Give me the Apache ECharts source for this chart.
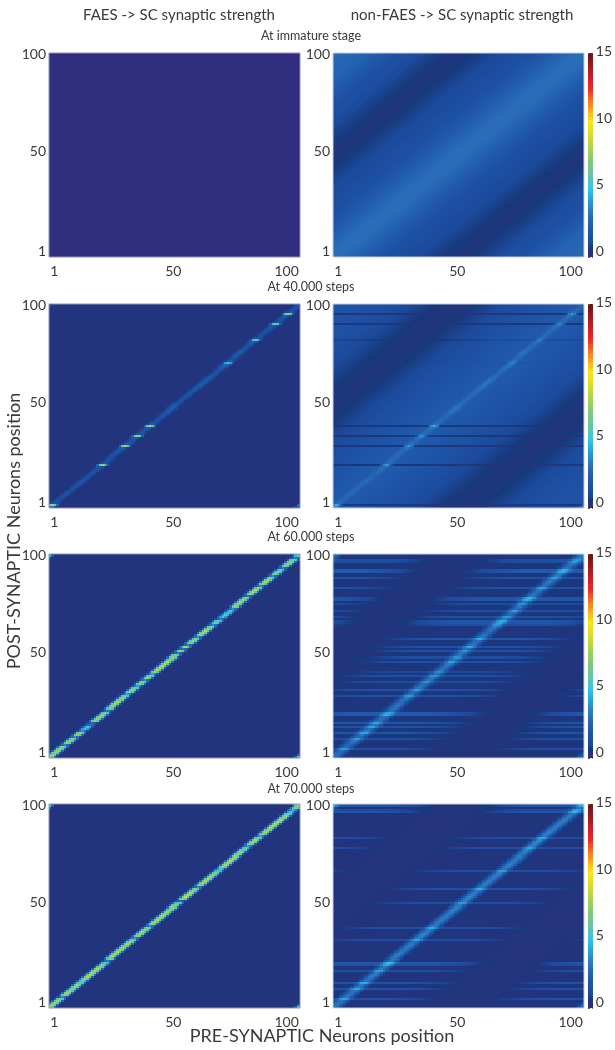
<!DOCTYPE html>
<html><head><meta charset="utf-8">
<style>html,body{margin:0;padding:0;background:#fff}#c{width:615px;height:1050px}</style>
<script src="https://cdn.jsdelivr.net/npm/echarts@6/dist/echarts.min.js"></script>
</head><body><div id="c"></div>
<script>
// Colour scale, one stop every 0.5 from 0 to 15
const scaleColors = ['#312e80','#17397c','#1c4a9c','#1e51a4','#2058ab','#2463b2','#2a6fb8','#2b84c8','#2a9ad6','#29b0e4','#34c3ec','#4fc4c6','#64c5a4','#72c790','#7fc97e','#94cd66','#a8d253','#c0d83f','#d6dd2d','#ecdf22','#fbe41a','#fcc31e','#f99f1e','#f47b21','#ef5423','#ec2a25','#dd2026','#c21e25','#a51c21','#8c181b','#71131a'];
const cbLevels = [0,.25,.5,.75,1,1.25,1.5,1.75,2,2.25,2.5,2.75,3,3.25,3.5,3.75,4,4.25,4.5,4.75,5,5.25,5.5,5.75,6,6.25,6.5,6.75,7,7.25,7.5,7.75,8,8.25,8.5,8.75,9,9.25,9.5,9.75,10,10.25,10.5,10.75,11,11.25,11.5,11.75,12,12.25,12.5,12.75,13,13.25,13.5,13.75,14,14.25,14.5,14.75,15];

// Background strength by |pre - post| distance 0..99
const profileR1 = [2.9,2.9,2.85,2.85,2.8,2.75,2.7,2.6,2.5,2.45, 2.35,2.3,2.2,2.1,2,1.95,1.85,1.8,1.7,1.6, 1.5,1.45,1.4,1.35,1.3,1.3,1.25,1.2,1.2,1.15, 1.1,1.05,1.05,1,1,.95,.9,.85,.8,.75, .7,.65,.6,.55,.5,.45,.42,.4,.38,.36, .35,.35,.36,.4,.45,.5,.55,.6,.65,.7, .75,.8,.85,.9,1,1.05,1.1,1.15,1.2,1.25, 1.3,1.3,1.35,1.4,1.45,1.5,1.6,1.7,1.8,1.85, 1.95,2.05,2.15,2.2,2.25,2.3,2.4,2.45,2.5,2.5, 2.55,2.55,2.6,2.6,2.65,2.65,2.7,2.7,2.75,2.8];
const profileR2 = [2,1.95,1.9,1.9,1.85,1.85,1.8,1.8,1.75,1.7, 1.7,1.65,1.6,1.6,1.55,1.5,1.45,1.45,1.4,1.35, 1.3,1.3,1.25,1.2,1.2,1.15,1.1,1.1,1.05,1, 1,.95,.9,.85,.8,.75,.7,.65,.6,.55, .5,.45,.4,.35,.3,.3,.25,.25,.25,.2, .2,.2,.2,.2,.25,.25,.3,.3,.35,.35, .4,.45,.5,.55,.6,.65,.7,.75,.8,.85, .9,.95,1,1,1.05,1.1,1.1,1.15,1.15,1.2, 1.2,1.25,1.25,1.3,1.3,1.3,1.35,1.35,1.35,1.4, 1.4,1.4,1.45,1.45,1.45,1.5,1.5,1.5,1.55,1.6];
const profileStripe = [1,1,1,1,1,1,1,1,1,1, 1,1,1,1,1,1,1,1,1,1, .95,.9,.9,.85,.8,.8,.75,.7,.65,.6, .55,.5,.45,.4,.35,.3,.25,.2,.18,.15, .12,.1,.08,.06,.05,.04,.03,.02,.02,.02, .02,.02,.03,.04,.05,.06,.08,.1,.12,.15, .2,.25,.3,.35,.4,.45,.5,.55,.6,.65, .7,.75,.8,.85,.9,.9,.95,.95,1,1, 1,1,1,1,1,1,1,1,1,1, 1,1,1,1,1,1,1,1,1,1];
const profileNone = [0,0,0,0,0,0,0,0,0,0, 0,0,0,0,0,0,0,0,0,0, 0,0,0,0,0,0,0,0,0,0, 0,0,0,0,0,0,0,0,0,0, 0,0,0,0,0,0,0,0,0,0, 0,0,0,0,0,0,0,0,0,0, 0,0,0,0,0,0,0,0,0,0, 0,0,0,0,0,0,0,0,0,0, 0,0,0,0,0,0,0,0,0,0, 0,0,0,0,0,0,0,0,0,0];

// Per-row gain on the background, rows 1..100
const rowsFlat = [1,1,1,1,1,1,1,1,1,1, 1,1,1,1,1,1,1,1,1,1, 1,1,1,1,1,1,1,1,1,1, 1,1,1,1,1,1,1,1,1,1, 1,1,1,1,1,1,1,1,1,1, 1,1,1,1,1,1,1,1,1,1, 1,1,1,1,1,1,1,1,1,1, 1,1,1,1,1,1,1,1,1,1, 1,1,1,1,1,1,1,1,1,1, 1,1,1,1,1,1,1,1,1,1];
const rowsR2 = [1,.15,1,1,1,1,1,1,1,1, 1,1,1,1,1,1,1,1,1,1, 1,.2,1,1,1,1,1,1,1,1, .2,1,1,1,1,.25,1,1,1,1, .2,1,1,1,1,1,1,1,1,1, 1,1,1,1,1,1,1,1,1,1, 1,1,1,1,1,1,1,1,1,1, 1,.9,1,1,1,1,1,1,1,1, 1,1,.6,1,1,1,1,1,1,1, .2,1,1,1,1,.2,1,1,1,1];
const rowsR3 = [.05,.05,.1,.05,1.1,.05,.05,.1,.25,1.1, .1,.2,1.35,.3,.1,1.25,.1,1.45,.3,.1, .1,1.7,1.7,.1,.05,.05,.1,.05,.1,.1, 1.2,.1,.1,1.25,.1,.1,.2,1,.1,.2, 1.2,.1,.7,.1,.1,.1,.2,1.1,.1,1, .1,.2,1.2,.1,1.25,.1,.1,.2,1.45,.1, .05,.05,.1,.1,.2,1.1,1.6,1.6,.2,1.25, .1,.2,1.1,.1,.2,.9,.1,1.6,1.6,.1, .1,.05,.2,1.25,.1,.1,.1,.2,1.2,.1, .1,1.7,1.7,.2,.1,.2,1.1,1.25,.2,.1];
const rowsR4 = [.05,.05,.05,.05,1.2,.05,.05,.05,.05,1.2, .05,.05,1.3,.05,.05,.05,.05,.05,1.1,.05, .05,1.3,1.7,.05,.05,.05,.05,.05,.05,.05, .05,.05,.05,1.1,.05,.05,.05,.05,.05,1.1, .05,.05,.05,.05,.05,.05,.05,.05,.05,.05, .05,1,.05,.05,.05,.05,.05,.05,1.2,.05, .05,.05,.05,.05,.05,.05,.05,1,.05,.05, .05,.05,.05,.05,.05,.05,.05,.05,1,.05, .05,.05,.05,1.1,.05,.05,.05,.05,.05,.05, .05,.05,.05,.05,.05,.05,1.5,1,.05,1.4];

// Diagonal strength per row 1..100
const diagNone = profileNone;
const diagL2 = [3,8,1.6,1.2,1.1,1.1,1.2,1.2,1.1,1.1, 1.2,1.2,1.4,1.4,1.2,1.1,1.1,1.2,1.2,1.4, 1.5,7.5,1.5,1.2,1.2,1.2,1.2,1.4,1.5,1.8, 8,1.8,1.4,1.2,1.8,7.5,1.7,1.2,1.4,1.8, 8,1.7,1.2,1.2,1.2,1.2,1.5,1.7,1.7,1.7, 1.7,1.4,1.2,1.2,1.2,1.2,1.2,1.4,1.5,1.7, 1.7,1.7,1.7,1.7,1.5,1.4,1.2,1.2,1.5,2, 2.4,5,1.8,1.2,1.4,1.7,1.8,1.5,1.2,1.2, 1.4,2,6,1.5,1.2,1.2,1.4,1.4,1.5,1.8, 6.5,1.5,1.2,1.4,1.7,7.5,1.5,1.2,1.1,1.1];
const diagL3 = [7.5,7.5,7.5,7.5,7.5,7,3.5,7.5,7.5,7, 3.5,7.5,7.5,3.5,5,5,3,2.5,7.5,7.5, 7.5,7.5,7,3,7,7.5,8,8,7.5,7.5, 7,4,7.5,7.5,7,4,7.5,7,3.5,7.5, 7,4,7.5,8,8,8,8,8,7.5,7.5, 7,3,7.5,3,8,3,7,7.5,7,3.5, 7.5,8,8,7.5,7,3.5,6.5,6.5,3,5,5.5,5.5,5,3.5,7.5,7.5,7.5,7.5,7,3, 7.5,8,8,7.5,3.5,7.5,8,8,7,3.5, 7,7,6,3,7,7.5,7.5,7,3,6];
const diagL4 = [8,7.5,7.5,7.5,7,3.5,7.5,8,7.5,7, 7.5,7.5,6.5,6.5,7.5,8,8,8,8,8, 7.5,7,6,3,7.5,8,8,8,8,7.5, 7.5,8,7.5,7,3.5,7.5,8,8,7.5,7, 3.5,7.5,8,8,8,8,8,7.5,7.5,7.5, 7,6.5,2.5,7.5,8.5,8.5,8,7.5,7,3.5, 7.5,8,8,8,7.5,7.5,7,6,5,7.5, 8,8,8,8,7.5,7.5,7.5,7,6,4, 7.5,8,8,7,4,7.5,8,8,8,8, 8,8,8,7.5,7.5,7,5,4.5,7,7.5];
const diagR2 = [2,4,.7,.6,.5,.5,.6,.6,.5,.5, .6,.6,.7,.7,.6,.5,.5,.6,.6,.7, .8,3.5,.8,.7,.6,.6,.6,.7,.8,1, 3.5,1,.7,.6,1,3.2,.9,.6,.7,1, 4,.9,.7,.6,.6,.6,.8,1,1,1, .9,.7,.6,.6,.6,.6,.7,.8,.9,1, 1,1,1,.9,.8,.7,.6,.7,.8,1, 1,1.6,1,.6,.7,1,1,.8,.6,.6, .7,1,2,.8,.6,.6,.7,.7,.8,1, 3,.8,.6,.7,.9,3.5,.8,.5,.5,.5];
const diagR3 = [2.6,2.8,2.4,2.6,2.8,2.5,2.3,2.6,2.8,2.7, 2.5,2.7,2.9,2.8,2.6,2.8,2.9,2.6,2.4,2.6, 2.8,2.6,2.4,2.6,2.8,2.9,2.7,2.5,2.7,2.9, 2.8,2.6,2.5,2.7,2.9,2.7,2.5,2.6,2.8,2.7, 2.5,2.7,2.9,2.8,2.6,2.8,3,2.9,2.7,2.6, 2.8,2.7,2.5,2.6,2.8,2.9,2.6,2.5,2.7,2.8, 2.8,2.6,2.5,2.7,2.9,2.7,2.4,2.7,2.8,2.5, 2.4,2.7,2.8,2.6,2.7,2.8,2.7,2.6,2.8,2.9, 2.7,2.6,2.8,2.8,2.6,2.8,3,2.8,2.7,3, 2.9,2.6,2.6,2.7,2.6,2.8,2.7,2.6,2.8,2.9];
const diagR4 = [2.8,2.9,2.9,2.8,2.9,3,2.9,2.8,2.9,3.1, 3,2.9,3,2.9,2.9,3,3.1,3,2.9,3, 3,2.9,3,2.9,2.9,3,3.1,2.9,2.9,3, 3.1,3,2.9,3,3.1,3.2,3.3,3.1,3,3.2, 3.1,2.9,3,3.1,3.1,3,3,3.1,3.2,3.1, 3,3,3.1,3.2,3.3,3.1,3,3.1,3.1,3, 3,3.1,3,3,3.1,3.2,3.1,3,2.9,3.1, 3.2,3.1,3,3.1,3.1,3,3.1,3.2,3.2,3.3, 3.3,3.4,3.3,3.1,3,3.1,3.2,3.1,3,3, 3.1,3.1,3,3.1,3,2.9,3,3.1,2.9,2.9];

// Spread of the diagonal across columns, by circular distance
const kernelThin = [1,.75,.3];
const kernelMid = [1,.8,.3];
const kernelWide = [1,.9,.6,.25,.08];

const cats = ['1','2','3','4','5','6','7','8','9','10','11','12','13','14','15','16','17','18','19','20','21','22','23','24','25','26','27','28','29','30','31','32','33','34','35','36','37','38','39','40','41','42','43','44','45','46','47','48','49','50','51','52','53','54','55','56','57','58','59','60','61','62','63','64','65','66','67','68','69','70','71','72','73','74','75','76','77','78','79','80','81','82','83','84','85','86','87','88','89','90','91','92','93','94','95','96','97','98','99','100'];
const rowTops = [53,304,554,804];
const rowTitleTops = [24,275,525,777];
const rowTitles = ['At immature stage','At 40.000 steps','At 60.000 steps','At 70.000 steps'];
const columnTitles = ['FAES -> SC synaptic strength','non-FAES -> SC synaptic strength'];
const yLabel = 'POST-SYNAPTIC Neurons position';
const xLabel = 'PRE-SYNAPTIC Neurons position';

const panels = [
 {c:0,r:0,base:0,   prof:profileNone,  rows:rowsFlat,diag:diagNone,kern:kernelThin},
 {c:1,r:0,base:0,   prof:profileR1,    rows:rowsFlat,diag:diagNone,kern:kernelMid},
 {c:0,r:1,base:.28, prof:profileNone,  rows:rowsFlat,diag:diagL2,  kern:kernelThin},
 {c:1,r:1,base:.15, prof:profileR2,    rows:rowsR2,  diag:diagR2,  kern:kernelMid},
 {c:0,r:2,base:.28, prof:profileNone,  rows:rowsFlat,diag:diagL3,  kern:kernelThin},
 {c:1,r:2,base:.28, prof:profileStripe,rows:rowsR3,  diag:diagR3,  kern:kernelWide},
 {c:0,r:3,base:.28, prof:profileNone,  rows:rowsFlat,diag:diagL4,  kern:kernelThin},
 {c:1,r:3,base:.25, prof:profileStripe,rows:rowsR4,  diag:diagR4,  kern:kernelWide}
];

function cells(p){
  const out=[];
  for(let y=0;y<100;y++)for(let x=0;x<100;x++){
    const d=Math.abs(x-y), circ=Math.min(d,100-d);
    const k=p.kern[circ]||0;
    out.push([x,y,p.base+p.rows[y]*p.prof[d]+p.diag[y]*k]);
  }
  return out;
}
// One cell: library scale gives the position, library visual map gives the colour
function renderCell(params,api){
  const pt=api.coord([api.value(0),api.value(1)]), s=api.size([1,1]);
  return {type:'rect',silent:true,
    shape:{x:Math.floor(pt[0]-s[0]/2),y:Math.floor(pt[1]-s[1]/2),width:Math.ceil(s[0]),height:Math.ceil(s[1])},
    style:{fill:api.visual('color')}};
}
function cellSeries(i,data){
  return {type:'custom',renderItem:renderCell,xAxisIndex:i,yAxisIndex:i,data,encode:{x:0,y:1},clip:true,progressive:0,silent:true,animation:false};
}

const txt='#3a3a3a', font='Lato';
const grid=[],xAxis=[],yAxis=[],series=[];
const keep=(i,v)=>v==='1'||v==='50'||v==='100';
const yCats=cats.map(v=>v==='1'?{value:v,textStyle:{verticalAlign:'bottom',lineHeight:8}}:v==='50'?{value:v,textStyle:{verticalAlign:'bottom',lineHeight:10}}:v);
panels.forEach(p=>{
  const left=p.c?333:49, i=grid.length;
  grid.push({left,top:rowTops[p.r],width:251,height:204,z:5,show:true,backgroundColor:'transparent',borderWidth:1,borderColor:p.c?'#c4cde0':'#8d92b5'});
  xAxis.push({gridIndex:i,type:'category',data:cats,axisLine:{show:false},axisTick:{show:false},splitLine:{show:false},
    axisLabel:{interval:keep,color:txt,fontFamily:font,fontSize:14,margin:7,alignMinLabel:'left',alignMaxLabel:'right',hideOverlap:false,showMinLabel:true,showMaxLabel:true}});
  yAxis.push({gridIndex:i,type:'category',data:yCats,axisLine:{show:false},axisTick:{show:false},splitLine:{show:false},
    axisLabel:{interval:keep,color:txt,fontFamily:font,fontSize:14,margin:3,hideOverlap:false,showMinLabel:true,showMaxLabel:true}});
  series.push(cellSeries(i,cells(p)));
});
// colour bars
rowTops.forEach(top=>{
  const i=grid.length;
  grid.push({left:588,top:top,width:8,height:204});
  xAxis.push({gridIndex:i,type:'category',data:['c'],show:false});
  yAxis.push({gridIndex:i,type:'category',position:'right',z:10,data:cbLevels.map(String),axisLine:{show:false},axisTick:{show:false},
    splitLine:{show:true,interval:(k,v)=>v==='10',lineStyle:{color:'#6a5a20',width:1,type:[2,2]}},
    axisLabel:{interval:(k,v)=>Number(v)%5===0,color:txt,fontFamily:font,fontSize:14,margin:3,verticalAlign:'bottom',lineHeight:7,hideOverlap:false,showMinLabel:true,showMaxLabel:true}});
  series.push(cellSeries(i,cbLevels.map((v,k)=>[0,k,v])));
});

const title=[
 {text:columnTitles[0],left:174,top:3,textAlign:'center',textStyle:{fontFamily:font,fontSize:15,fontWeight:'normal',color:txt}},
 {text:columnTitles[1],left:457,top:3,textAlign:'center',textStyle:{fontFamily:font,fontSize:15,fontWeight:'normal',color:txt}},
 {text:xLabel,left:317,top:1022,textAlign:'center',textStyle:{fontFamily:font,fontSize:18,fontWeight:'normal',color:txt}}
];
rowTitles.forEach((t,k)=>title.push({text:t,left:306,top:rowTitleTops[k],textAlign:'center',textStyle:{fontFamily:font,fontSize:12.5,fontWeight:'normal',color:txt}}));

const chart=echarts.init(document.getElementById('c'),null,{renderer:'canvas'});
chart.setOption({
  animation:false,backgroundColor:'#fff',title,grid,xAxis,yAxis,series,
  visualMap:{show:false,type:'continuous',min:0,max:15,dimension:2,calculable:false,inRange:{color:scaleColors}},
  graphic:[{type:'text',rotation:Math.PI/2,x:14,y:531,style:{text:yLabel,font:'18px Lato',fill:txt,textAlign:'center',textVerticalAlign:'middle'}}]
});
</script></body></html>
